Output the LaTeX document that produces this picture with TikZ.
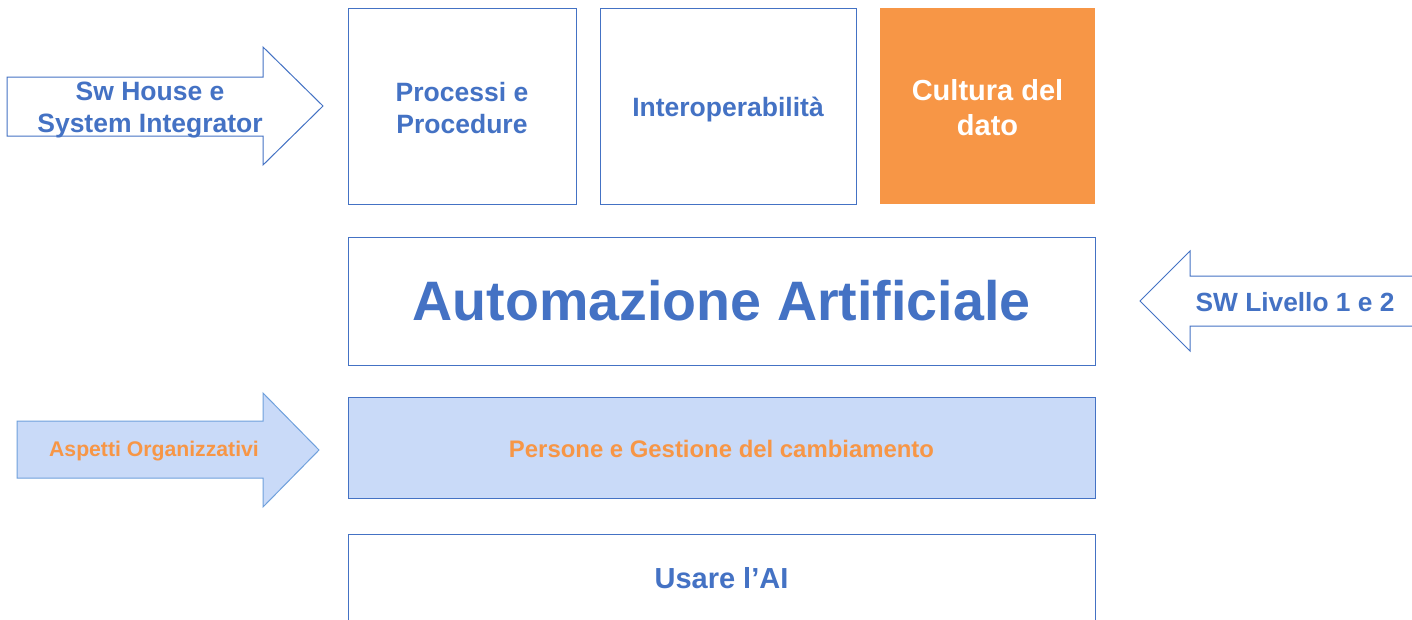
\documentclass[tikz,border=0pt]{standalone}
\usepackage{fontspec}
\setmainfont{Liberation Sans}
\definecolor{tblue}{HTML}{4472C4}
\definecolor{torange}{HTML}{F79646}
\definecolor{lblue}{HTML}{C9DAF8}
\definecolor{ablue}{HTML}{6FA0DC}
\begin{document}
\begin{tikzpicture}[x=1pt,y=-1pt,
  box/.style={draw=tblue, line width=1pt, inner sep=0pt, anchor=center},
  txt/.style={text=tblue, font=\fontsize{26.5}{32}\selectfont\bfseries, align=center, inner sep=0pt},
  arr/.style={draw=tblue, line width=1pt, fill=white}]
\useasboundingbox (0,0) rectangle (1412,619);
\clip (0,0) rectangle (1412,619);
\fill[white] (0,0) rectangle (1412,619);
% top boxes
\node[box, minimum width=228pt, minimum height=196pt] (pp) at (462,106) {};
\node[txt, yshift=-2.5pt] (ppt) at (pp.center) {Processi e\\Procedure};
\node[box, minimum width=256pt, minimum height=196pt] (io) at (728,106) {};
\node[txt, yshift=-3.5pt] (iot) at (io.center) {Interoperabilità};
\node[box, draw=none, fill=torange, minimum width=215pt, minimum height=196pt] (cd) at (987.5,106) {};
\node[txt, text=white, yshift=-2pt, font=\fontsize{29}{35}\selectfont\bfseries] (cdt) at (cd.center) {Cultura del\\dato};
% middle
\node[box, minimum width=747pt, minimum height=128pt] (aa) at (721.5,301) {};
\node[txt, font=\fontsize{55.6}{60}\selectfont\bfseries] (aat) at (aa.center) {Automazione Artificiale};
\node[box, fill=lblue, minimum width=747pt, minimum height=101pt] (pg) at (721.5,447.5) {};
\node[txt, text=torange, yshift=-1.5pt, font=\fontsize{23.9}{28}\selectfont\bfseries] (pgt) at (pg.center) {Persone e Gestione del cambiamento};
% bottom open box
\draw[tblue, line width=1pt] (348,640) -- (348,534) -- (1095,534) -- (1095,640);
\coordinate (ua) at (721.5,578);
\node[txt, font=\fontsize{29}{34}\selectfont\bfseries] (uat) at (ua) {Usare l’AI};
% arrows
\draw[arr] (7,77) -- (263,77) -- (263,47) -- (323,106) -- (263,165) -- (263,136) -- (7,136) -- cycle;
\node[txt] (swh) at (150,110) {Sw House e\\System Integrator};
\draw[arr] (1420,276) -- (1190,276) -- (1190,251) -- (1140,301) -- (1190,351) -- (1190,326) -- (1420,326);
\node[txt, font=\fontsize{26.3}{32}\selectfont\bfseries] (swl) at (1295,302) {SW Livello 1 e 2};
\draw[arr, draw=ablue, fill=lblue] (17,421) -- (263,421) -- (263,393) -- (319,450) -- (263,507) -- (263,478) -- (17,478) -- cycle;
\node[txt, text=torange, font=\fontsize{21.2}{26}\selectfont\bfseries] (ao) at (154,451.5) {Aspetti Organizzativi};
\end{tikzpicture}
\end{document}
